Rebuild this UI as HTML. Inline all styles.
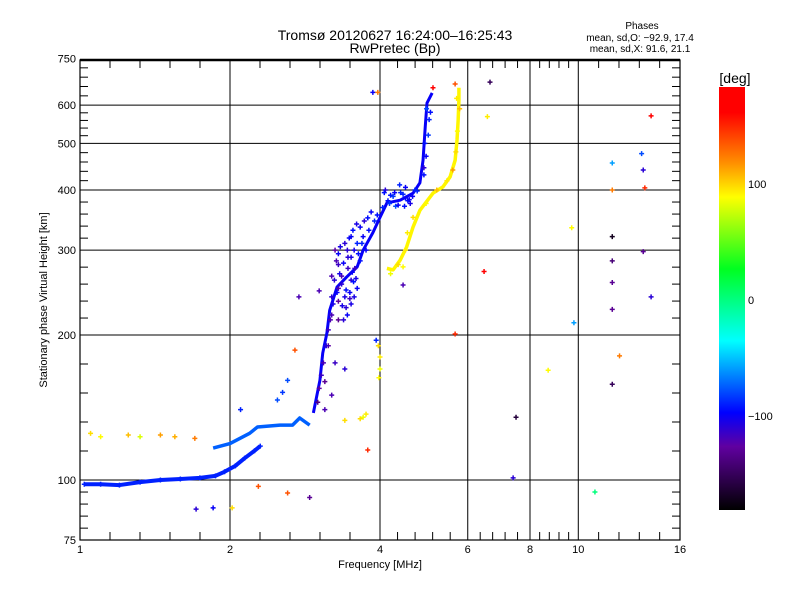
<!DOCTYPE html>
<html><head><meta charset="utf-8"><style>
body{margin:0;background:#fff}
svg{font-family:"Liberation Sans",sans-serif}
</style></head><body>
<svg id="chart" width="800" height="600" viewBox="0 0 800 600" xmlns="http://www.w3.org/2000/svg">
<rect width="800" height="600" fill="#fff"/>
<text x="395" y="40" font-size="14" text-anchor="middle">Tromsø 20120627 16:24:00–16:25:43</text>
<text x="395" y="53" font-size="14" text-anchor="middle">RwPretec (Bp)</text>
<g font-size="10" text-anchor="middle">
<text x="642" y="29">Phases</text>
<text x="640" y="41">mean, sd,O: −92.9, 17.4</text>
<text x="640" y="52">mean, sd,X:  91.6, 21.1</text>
</g>
<g id="grid"></g>
<g id="marks"></g>
<g id="axes"></g>
<text x="380" y="568" font-size="11" text-anchor="middle">Frequency [MHz]</text>
<text transform="translate(47,300) rotate(-90)" font-size="11" text-anchor="middle">Stationary phase Virtual Height [km]</text>
<defs><linearGradient id="cb" x1="0" y1="1" x2="0" y2="0">
<stop offset="0" stop-color="#000"/><stop offset="0.15" stop-color="#6000a0"/><stop offset="0.23" stop-color="#0000ff"/><stop offset="0.4" stop-color="#00ffff"/><stop offset="0.57" stop-color="#00ff20"/><stop offset="0.74" stop-color="#ffff00"/><stop offset="0.82" stop-color="#ff9000"/><stop offset="0.94" stop-color="#ff0000"/><stop offset="1" stop-color="#ff0000"/>
</linearGradient></defs>
<rect x="719" y="87" width="26" height="423" fill="url(#cb)"/>
<text x="735" y="83" font-size="14" text-anchor="middle">[deg]</text>
<g font-size="11">
<text x="748" y="188">100</text><text x="748" y="304">0</text><text x="748" y="420">−100</text>
</g>
</svg>
<script>
const xTicks=[1,2,4,6,8,10,16];
const yTicks=[75,100,200,300,400,500,600,750];
const oFreq=[1.02,1.10,1.20,1.32,1.45,1.59,1.74,1.87,1.95,2.05,2.14,2.24,2.30];
const oHeight=[98,98,97.6,99,100,100.5,101,102,104,107,111,115,117.6];
const o2Freq=[1.85,2.0,2.19,2.27,2.52,2.67,2.76,2.89];
const o2Height=[116.5,119,125,128.8,130,130,134.5,130];
const o3Freq=[2.94,3.03,3.07,3.13,3.17,3.28,3.43,3.60,3.70,3.87,4.0,4.13,4.39,4.66,4.81,4.88,4.93,4.97,5.09];
const o3Height=[137.8,161,183.4,202,225,251.6,264,277,300,326,351,376,381,394,414,461,541,606,636];
const xFreq=[4.13,4.25,4.39,4.52,4.66,4.81,5.11,5.35,5.53,5.66,5.71,5.74,5.76,5.76];
const xHeight=[275,273,286,304,335,363,394,406,426,461,508,559,614,652];
const blobFreq=[3.2,3.3,3.4,3.5,3.6,3.3,3.45,3.55,3.65,3.75,3.25,3.4,3.5,3.35,3.6,3.7,3.8,3.2,3.3,3.15,3.25,3.4,3.1,3.2,3.0,3.1,4.2,4.4,4.5,4.3,4.6,4.5,4.1,3.45,3.55,3.3,3.2,2.49,2.61,2.55,
3.22,3.28,3.35,3.42,3.48,3.52,3.58,3.62,3.68,3.24,3.32,3.38,3.44,3.5,3.56,3.3,3.36,3.42,3.48,3.54,3.38,3.44,3.5,3.27,3.33,3.47,3.53,3.59,3.65,3.72,3.78,3.84,3.9,3.95,
4.05,4.15,4.25,4.35,4.45,4.55,4.65,4.75,4.08,4.18,4.28,4.38,4.48,4.58,4.7,4.9,4.95,5.0,4.92,5.02,4.96,4.9,5.05,3.05,3.08,3.12,3.15,3.18,3.02];
const blobHeight=[240,250,240,260,250,280,290,300,285,300,300,310,320,265,310,320,330,220,215,190,175,170,160,150,145,140,390,395,385,370,375,405,400,275,240,235,265,146.6,161,152,
232,245,255,248,238,270,262,295,310,260,268,282,300,290,275,295,230,228,245,258,215,220,232,285,305,318,330,340,335,345,350,360,345,355,
368,380,388,372,392,380,388,398,395,375,395,410,370,382,400,430,470,520,500,560,590,445,580,165,175,190,205,215,155];
const blobPhase=[-110,-120,-105,-110,-100,-115,-110,-105,-95,-100,-125,-110,-100,-120,-90,-100,-95,-120,-130,-125,-115,-110,-130,-120,-135,-120,-95,-90,-100,-80,-105,-100,-110,-115,-105,-125,-120,-80,-80,-85,
-105,-100,-110,-95,-115,-100,-105,-95,-90,-110,-105,-100,-110,-105,-115,-100,-105,-110,-100,-95,-110,-100,-105,-120,-105,-100,-95,-105,-100,-110,-95,-100,-90,-95,
-90,-95,-85,-100,-90,-95,-100,-90,-95,-85,-100,-90,-95,-100,-90,-95,-100,-85,-95,-90,-80,-110,-95,-115,-120,-110,-115,-120,-125];
const extraFreq=[4.45,4.54,4.66,3.98,4.0,4.0,3.97,3.7,3.75,3.65,1.05,1.1,1.25,1.32,1.45,1.55,1.7,4.2,4.35,4.5,4.95,5.2,5.45,5.6,5.68,5.72,5.78,5.7];
const extraHeight=[277,326,351,163,170,180,190,135,137,134,125,123,124,123,124,123,122,268,280,300,375,400,418,440,480,530,590,620];
const extraPhase=[90,95,100,90,85,95,100,85,95,100,100,90,110,80,120,115,130,85,100,95,90,110,95,120,100,90,110,95];
const outFreq=[6.65,6.57,9.7,9.8,11.7,11.7,11.7,11.7,11.7,11.7,11.7,12.1,13.4,13.5,13.6,14.0,13.5,14.0,10.8,8.7,7.5,7.4,5.66,5.11,3.87,3.96,6.47,5.66,4.45,2.89,2.61,2.28,2.02,1.85,1.71,3.78,3.4,2.1,2.7,3.93,3.02,2.75];
const outHeight=[670,568,334,212,455,400,320,285,257,226,158,181,476,440,404,570,298,240,94.4,169,135,101,664,652,638,638,271,201,254,92,94,97,87.5,87.5,87,115.4,133,140,186,195,247,240];
const outPhase=[-150,95,90,-60,-60,130,-170,-140,-130,-130,-150,130,-80,-110,150,170,-130,-110,0,90,-160,-110,140,170,-100,130,170,150,-120,-130,140,140,100,-100,-110,150,100,-90,140,-90,-120,-120];

const X0=80,X1=680,Y0=60,Y1=540;
const xs=f=>X0+150*Math.log2(f);
const ys=h=>480-145*Math.log2(h/100);
const NS="http://www.w3.org/2000/svg";
function mk(tag,attrs,parent){const e=document.createElementNS(NS,tag);for(const k in attrs)e.setAttribute(k,attrs[k]);parent.appendChild(e);return e;}
const stops=[[-180,[0,0,0]],[-126,[96,0,160]],[-98,[0,0,255]],[-37,[0,255,255]],[26,[0,255,32]],[89,[255,255,0]],[125,[255,144,0]],[160,[255,0,0]],[180,[255,0,0]]];
function col(p){for(let i=1;i<stops.length;i++){if(p<=stops[i][0]){const a=stops[i-1],b=stops[i];const t=(p-a[0])/(b[0]-a[0]);const c=a[1].map((v,j)=>Math.round(v+(b[1][j]-v)*t));return `rgb(${c})`;}}return 'rgb(255,0,0)';}

const grid=document.getElementById('grid'),axes=document.getElementById('axes'),marks=document.getElementById('marks');
xTicks.forEach((t,i)=>{const x=xs(t);
 if(i>0&&i<xTicks.length-1){const g=mk('line',{x1:x,x2:x,y1:Y0,y2:Y1,stroke:'#000','stroke-width':1},grid);}
 const l=mk('text',{x:x,y:553,'font-size':11,'text-anchor':'middle'},axes);l.textContent=t;
 
 if(i<xTicks.length-1){const x2=xs(xTicks[i+1]);for(let k=1;k<5;k++){const xm=x+(x2-x)*k/5;
  mk('line',{x1:xm,x2:xm,y1:Y0,y2:Y0+8,stroke:'#000'},axes);mk('line',{x1:xm,x2:xm,y1:Y1,y2:Y1-8,stroke:'#000'},axes);}}
});
yTicks.forEach((t,i)=>{const y=ys(t);
 if(i>0&&i<yTicks.length-1){const g=mk('line',{x1:X0,x2:X1,y1:y,y2:y,stroke:'#000','stroke-width':1},grid);}
 const l=mk('text',{x:76,y:y+4,'font-size':11,'text-anchor':'end'},axes);l.textContent=t;
 
 if(i<yTicks.length-1){const y2=ys(yTicks[i+1]);for(let k=1;k<5;k++){const ym=y+(y2-y)*k/5;
  mk('line',{x1:X0,x2:X0+8,y1:ym,y2:ym,stroke:'#000'},axes);mk('line',{x1:X1,x2:X1-8,y1:ym,y2:ym,stroke:'#000'},axes);}}
});
const fr=mk('rect',{x:X0,y:Y0,width:X1-X0,height:Y1-Y0,fill:'none',stroke:'#000','stroke-width':1.2},axes);

mk('line',{x1:X0,x2:X1,y1:Y0,y2:Y0,stroke:'#000','stroke-width':2.5},axes);

function trace(F,H,p,name,w){const pts=F.map((f,i)=>xs(f)+','+ys(H[i])).join(' ');
 const pl=mk('polyline',{points:pts,fill:'none',stroke:col(p),'stroke-width':w,'stroke-linejoin':'round'},marks);
 }
function pts(F,H,P,name){F.forEach((f,i)=>{const x=xs(f),y=ys(H[i]);
 const m=mk('path',{d:`M${x-2.5} ${y}h5M${x} ${y-2.5}v5`,stroke:col(P[i]),'stroke-width':1.5},marks);
 });}
trace(oFreq,oHeight,-90,'o-trace-lower',4);
trace(o2Freq,o2Height,-75,'o-trace-branch',3.5);
trace(o3Freq,o3Height,-100,'o-trace-main',3);
trace(xFreq,xHeight,92,'x-trace',3.5);
pts(oFreq,oHeight,oFreq.map(()=>-90),'o-point');
pts(blobFreq,blobHeight,blobPhase,'o-cluster-point');
pts(extraFreq,extraHeight,extraPhase,'x-point');
pts(outFreq,outHeight,outPhase,'outlier-point');
</script>
</body></html>
